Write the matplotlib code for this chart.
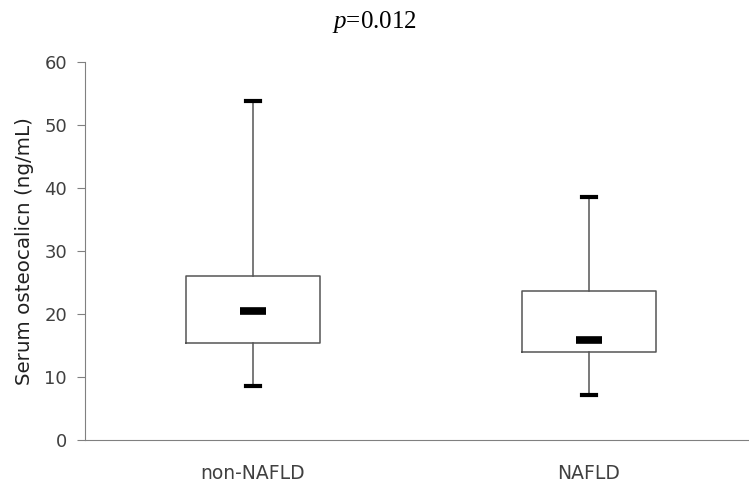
import matplotlib.pyplot as plt

plt.rcParams["mathtext.fontset"] = "custom"
plt.rcParams["mathtext.it"] = "Liberation Serif:italic"
plt.rcParams["mathtext.rm"] = "Liberation Serif"

# data
groups = ["non-NAFLD", "NAFLD"]
whisker_low = [8.5, 7.1]
q1 = [15.4, 14.0]
median = [20.4, 15.8]
q3 = [26.0, 23.6]
whisker_high = [53.8, 38.5]
p_text = "0.012"

positions = list(range(len(groups)))

stats = []
for i, g in enumerate(groups):
    stats.append({"label": g, "whislo": whisker_low[i], "q1": q1[i], "med": median[i],
                  "q3": q3[i], "whishi": whisker_high[i]})

fig = plt.figure(figsize=(7.49, 4.82), dpi=100)
ax = fig.add_axes([85 / 749, 1 - 440 / 482, 1 - 85 / 749, 378 / 482])

ax.bxp(stats, positions=positions, widths=0.40, showfliers=False,
       boxprops=dict(color="#555555", linewidth=1.1),
       whiskerprops=dict(color="#555555", linewidth=1.1),
       capprops=dict(color="black", linewidth=3),
       capwidths=0.042,
       medianprops=dict(visible=False))

# thick short median marks
ax.hlines(median, [p - 0.04 for p in positions], [p + 0.04 for p in positions],
          color="black", linewidth=5.5)

ax.set_xlim(-0.5, 1.476)
ax.set_ylim(0, 60)
ax.set_yticks(range(0, 61, 10))
ax.set_xticks(positions)
ax.set_xticklabels(groups)

ax.spines["top"].set_visible(False)
ax.spines["right"].set_visible(False)
ax.spines["left"].set_color("#808080")
ax.spines["bottom"].set_color("#808080")
ax.tick_params(axis="y", colors="#808080", labelcolor="#404040", labelsize=13, length=6, pad=7)
ax.tick_params(axis="x", length=0, labelcolor="#404040", labelsize=13.5, pad=17)

ax.set_ylabel("Serum osteocalicn (ng/mL)", fontsize=14.3, color="#202020", labelpad=7)

fig.text(0.5, 0.955, r"$p$=" + p_text, ha="center", va="center",
         fontsize=18, family="Liberation Serif")

fig.savefig("out.png", dpi=100)
